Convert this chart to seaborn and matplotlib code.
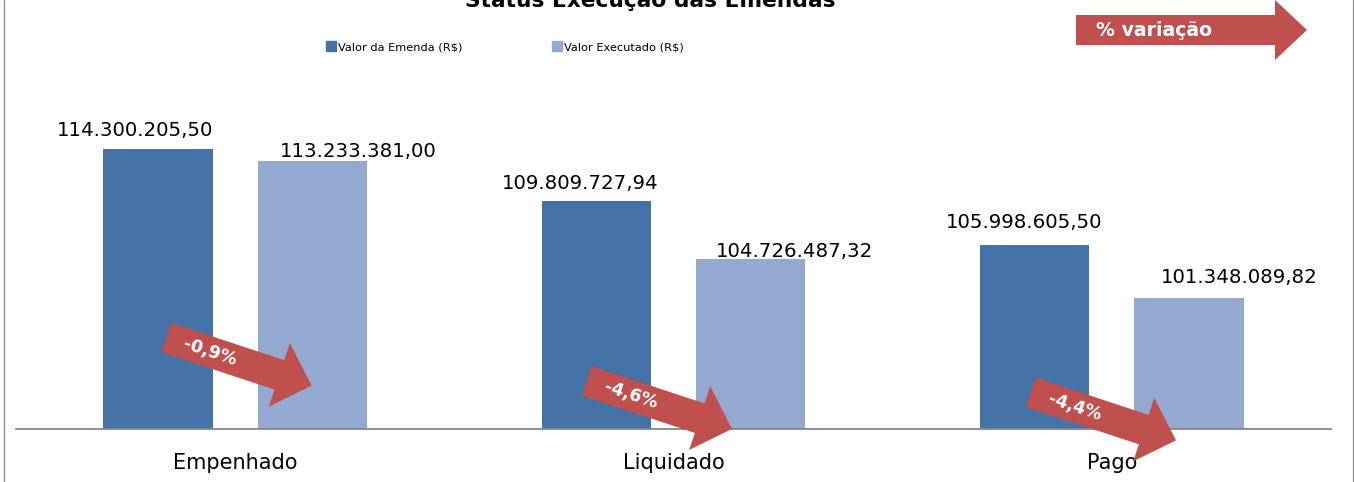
import numpy as np
import pandas as pd
import matplotlib
matplotlib.use("Agg")
import matplotlib.pyplot as plt
import seaborn as sns
from matplotlib.patches import Polygon
from matplotlib.lines import Line2D

# ---------------- data ----------------
categories = ["Empenhado", "Liquidado", "Pago"]
series_names = ["Valor da Emenda (R$)", "Valor Executado (R$)"]
valor_emenda = [114300205.50, 109809727.94, 105998605.50]
valor_executado = [113233381.00, 104726487.32, 101348089.82]
title = "Status Execução das Emendas"
badge_text = "% variação"

# ---------------- style ----------------
colors = ["#4572A7", "#93A9CF"]
red = "#C0504D"
W, H, DPI = 1354, 482, 100

sns.set_theme(style="white")
plt.rcParams["font.family"] = ["DejaVu Sans"]
plt.rcParams["text.color"] = "black"
plt.rcParams["xtick.color"] = "black"
plt.rcParams["axes.labelcolor"] = "black"

df = pd.DataFrame({
    "categoria": categories * 2,
    "serie": [series_names[0]] * len(categories) + [series_names[1]] * len(categories),
    "valor": valor_emenda + valor_executado,
})

fig = plt.figure(figsize=(W / DPI, H / DPI), dpi=DPI)
fig.patch.set_facecolor("white")
ax_l, ax_r = 16 / W, 1331 / W
ax_b, ax_t = 1 - 429 / H, 1 - 83.3 / H
ax = fig.add_axes([ax_l, ax_b, ax_r - ax_l, ax_t - ax_b])

sns.barplot(data=df, x="categoria", y="valor", hue="serie", order=categories,
            hue_order=series_names, palette=colors, width=0.703, gap=0.29,
            saturation=1, errorbar=None, legend=False, linewidth=0, ax=ax)
ax.set_ylim(90e6, 120e6)
ax.set_xlim(-0.5, len(categories) - 0.5)
ax.set_yticks([])
ax.set_xlabel("")
ax.set_ylabel("")
for s in ["top", "left", "right"]:
    ax.spines[s].set_visible(False)
ax.spines["bottom"].set_color("#868686")
ax.spines["bottom"].set_linewidth(1.3)
ax.tick_params(axis="x", length=0, pad=17.5, labelsize=15)
ax.patch.set_alpha(0)

# ---------------- value labels ----------------
def fmt_br(v):
    s = f"{v:,.2f}"
    return s.replace(",", "X").replace(".", ",").replace("X", ".")

series_vals = [valor_emenda, valor_executado]
label_offsets_px = [[(-23, 18.5), (46, 9.7)],
                    [(-16, 17), (44, 7.5)],
                    [(-11, 22), (50, 21)]]
for h, cont in enumerate(ax.containers):
    for i, bar in enumerate(cont):
        x = bar.get_x() + bar.get_width() / 2
        y = series_vals[h][i]
        dx, dy = label_offsets_px[i][h]
        ax.annotate(fmt_br(series_vals[h][i]), (x, y), xytext=(dx * 0.72, dy * 0.72),
                    textcoords="offset points", ha="center", va="center",
                    fontsize=14.2, color="black", annotation_clip=False)

# ---------------- overlay (pixel coordinates) ----------------
ov = fig.add_axes([0, 0, 1, 1], zorder=5)
ov.set_xlim(0, W)
ov.set_ylim(H, 0)
ov.axis("off")
ov.patch.set_visible(False)


def arrow_poly(tx, ty, L, bw, hw, hl, ang):
    a = np.deg2rad(ang)
    pts = [(0, -bw / 2), (L - hl, -bw / 2), (L - hl, -hw / 2), (L, 0),
           (L - hl, hw / 2), (L - hl, bw / 2), (0, bw / 2)]
    c, s = np.cos(a), np.sin(a)
    return [(tx + u * c - v * s, ty + u * s + v * c) for u, v in pts]


def to_px(x, y):
    dx, dy = ax.transData.transform((x, y))
    return dx, H - dy


# variation arrows
variacao = [(e2 - e1) / e1 * 100 for e1, e2 in zip(valor_emenda, valor_executado)]
arrow_anchor = [(-0.157, 97.94e6), (-0.198, 94.18e6), (-0.185, 93.19e6)]
ang = 18.3
for i, (v, (ox, oy)) in enumerate(zip(variacao, arrow_anchor)):
    tx, ty = to_px(i + ox, oy)
    ov.add_patch(Polygon(arrow_poly(tx, ty, 153, 31, 67, 34, ang), closed=True,
                         facecolor=red, edgecolor="none"))
    a = np.deg2rad(ang)
    cx, cy = tx + 46 * np.cos(a), ty + 46 * np.sin(a)
    txt = f"{v:.1f}%".replace(".", ",")
    ov.text(cx, cy, txt, color="white", fontsize=12.5, fontweight="bold",
            ha="center", va="center", rotation=-ang, rotation_mode="anchor")

# badge arrow
ov.add_patch(Polygon(arrow_poly(1076, 30, 231, 30, 60, 32, 0), closed=True,
                     facecolor=red, edgecolor="none"))
ov.text(1154, 31, badge_text, color="white", fontsize=13.6, fontweight="bold",
        ha="center", va="center")

# chart border (left/right)
ov.add_line(Line2D([3.5, 3.5], [0, H], color="#8c8c8c", lw=0.9))
ov.add_line(Line2D([1352.5, 1352.5], [0, H], color="#8c8c8c", lw=0.9))

# title (clipped at the top as in the reference)
fig.text(650 / W, 1 - 7 / H, title, ha="center", va="baseline",
         fontsize=15.7, fontweight="bold", color="black")

# legend
handles = [Line2D([], [], marker="s", ls="", color=c, markersize=6.5) for c in colors]
fig.legend(handles, series_names, loc="center left", bbox_to_anchor=(326 / W, 1 - 47 / H),
           ncol=2, frameon=False, fontsize=8.2, handlelength=0.8, handletextpad=0.25,
           columnspacing=7.9, borderpad=0, borderaxespad=0)

fig.savefig("out.png", dpi=DPI, facecolor="white")
